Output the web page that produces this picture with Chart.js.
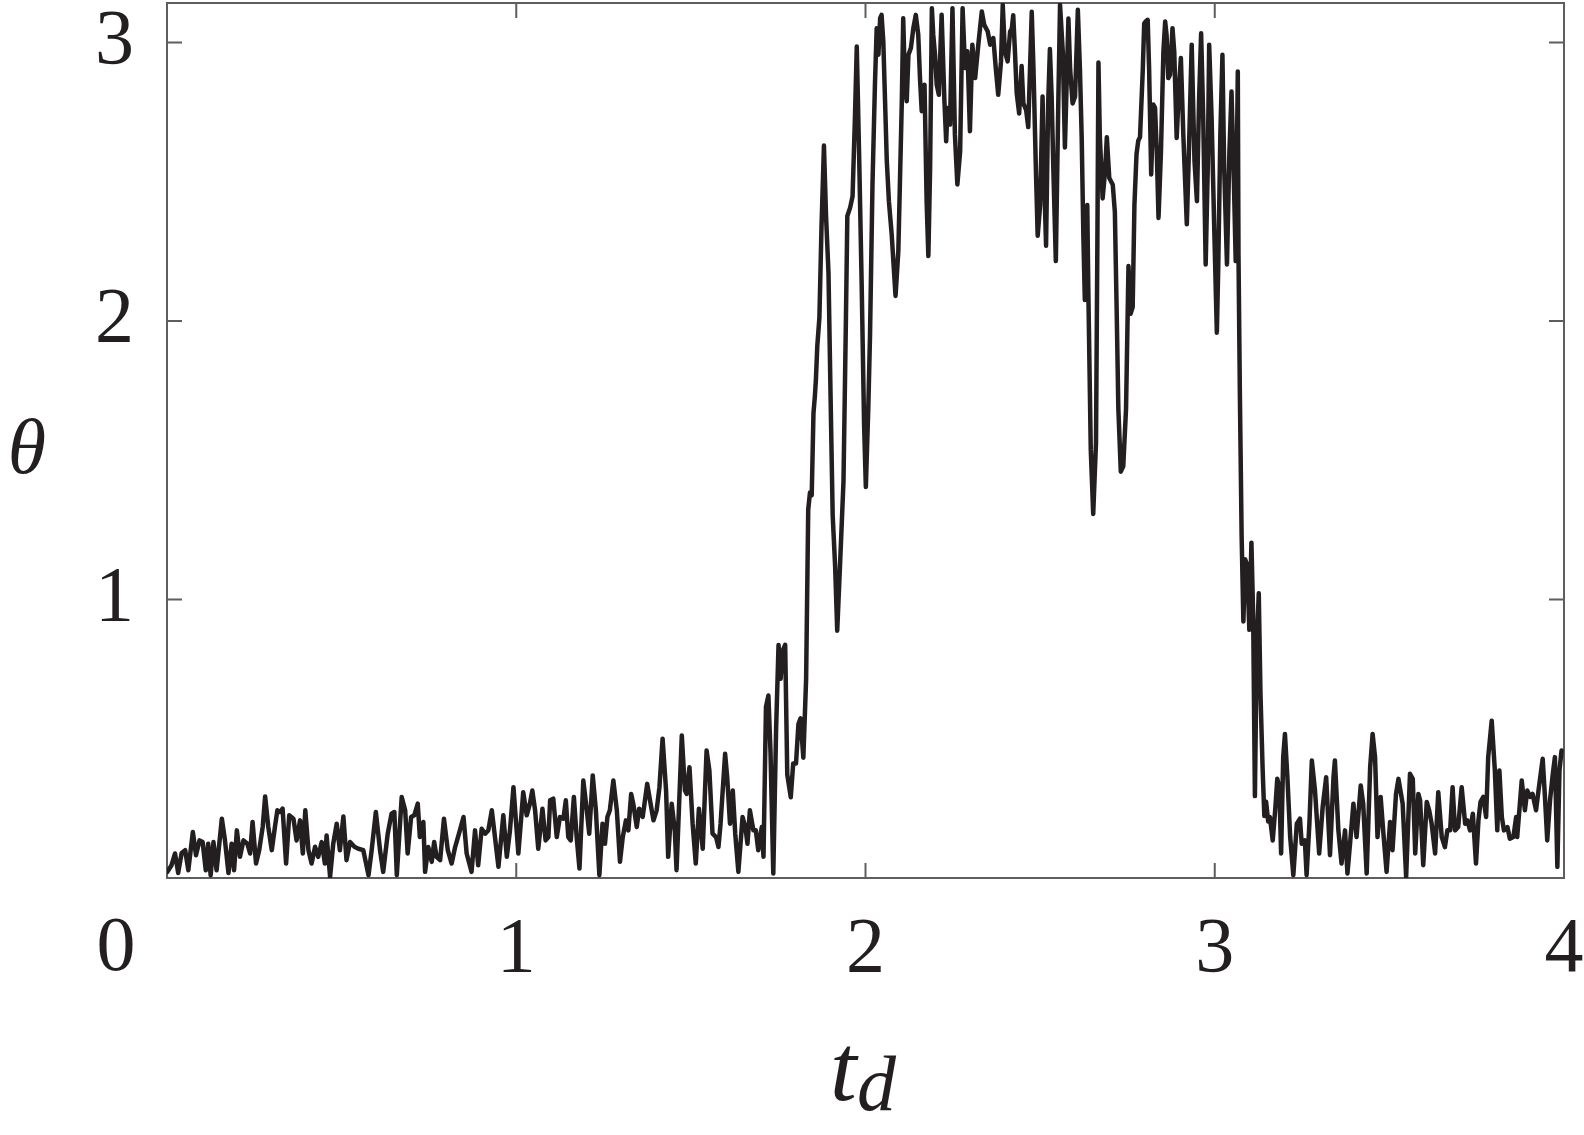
<!DOCTYPE html>
<html>
<head>
<meta charset="utf-8">
<script src="https://cdn.jsdelivr.net/npm/chart.js@4.4.1/dist/chart.umd.min.js"></script>
<style>
  html, body { margin: 0; padding: 0; background: #fff; }
  #wrap { width: 1584px; height: 1135px; position: relative; }
</style>
</head>
<body>
<div id="wrap"><canvas id="thetaChart"></canvas></div>
<script>
// values (t_d, theta)
const tValues = [
  0.001,0.013,0.023,0.032,0.042,0.052,0.061,0.074,0.083,0.093,0.102,0.111,0.118,0.125,0.133,0.142,0.157,0.166,0.176,0.185,0.192,0.200,0.209,0.219,0.230,0.238,0.245,0.255,0.264,0.274,0.281,0.290,0.300,0.309,0.316,0.324,0.331,0.341,0.350,0.362,0.371,0.381,0.389,0.396,0.405,0.414,0.424,0.433,0.443,0.452,0.457,0.467,0.476,0.486,0.495,0.505,0.514,0.524,0.533,
  0.538,0.548,0.562,0.577,0.586,0.598,0.610,0.619,0.632,0.643,0.651,0.658,0.672,0.682,0.689,0.699,0.708,0.718,0.724,0.734,0.739,0.748,0.758,0.765,0.772,0.782,0.793,0.804,0.815,0.825,0.836,0.849,0.858,0.872,0.882,0.891,0.901,0.911,0.920,0.930,0.939,0.949,0.963,0.973,0.982,0.992,1.006,1.020,1.030,1.039,1.046,1.054,1.063,1.075,1.084,1.092,
  1.097,1.106,1.116,1.125,1.135,1.142,1.149,1.156,1.165,1.173,1.181,1.192,1.202,1.209,1.219,1.228,1.238,1.247,1.254,1.261,1.268,1.278,1.288,1.297,1.305,1.314,1.321,1.329,1.335,1.345,1.352,1.362,1.375,1.383,1.393,1.402,1.410,1.419,1.429,1.435,1.445,1.454,1.459,1.474,1.483,1.488,1.496,1.505,1.514,1.523,1.534,1.545,1.553,1.562,1.572,1.579,1.585,1.598,1.604,1.612,1.620,1.627,1.636,1.648,1.656,1.662,1.669,1.679,1.686,1.693,1.703,1.708,
  1.715,1.722,1.728,1.736,1.744,1.751,1.757,1.763,1.770,1.776,1.786,1.793,1.801,1.808,1.814,1.822,1.830,1.836,1.841,1.846,1.851,1.855,1.858,1.862,1.868,1.874,1.881,1.887,1.894,1.900,1.906,1.913,1.919,1.927,1.937,1.944,1.948,1.956,1.963,1.970,1.975,1.982,1.989,1.996,2.001,2.008,
  2.013,2.020,2.027,2.032,2.037,2.042,2.046,2.051,2.056,2.061,2.067,2.075,2.086,2.094,2.104,2.108,2.113,2.118,2.123,2.130,2.137,2.144,2.151,2.156,2.161,2.169,2.175,2.180,2.185,2.190,2.194,2.199,2.204,2.210,2.218,2.226,2.231,2.235,2.242,2.249,2.256,2.263,2.271,2.278,2.285,2.292,2.299,2.306,2.314,2.323,2.333,2.340,2.350,2.357,2.366,2.373,2.380,2.388,2.393,2.399,2.407,2.414,
  2.419,2.423,2.428,2.433,2.440,2.447,2.452,2.460,2.466,2.476,2.481,2.488,2.493,2.500,2.507,2.511,2.517,2.523,2.528,2.533,2.538,2.545,2.552,2.557,2.565,2.571,2.581,2.586,2.593,2.600,2.608,2.614,2.619,2.624,2.628,2.635,2.638,2.645,2.652,2.660,2.664,2.667,2.671,2.679,2.686,2.691,2.698,2.708,2.714,2.719,2.724,2.731,2.738,2.746,2.753,2.759,2.765,2.770,2.776,2.781,2.786,2.794,2.798,
  2.802,2.808,2.812,2.818,2.824,2.829,2.834,2.839,2.846,2.853,2.858,2.862,2.867,2.872,2.879,2.884,2.891,2.898,2.903,2.910,2.920,2.926,2.934,2.942,2.949,2.955,2.961,2.967,2.974,2.980,2.984,2.991,2.999,3.006,3.010,3.016,3.022,3.027,3.035,3.042,3.048,3.055,3.060,3.066,
  3.068,3.072,3.077,3.082,3.087,3.093,3.099,3.105,3.110,3.115,3.120,3.126,3.131,3.137,3.142,3.147,3.153,
  3.158,3.166,3.173,3.179,3.185,3.190,3.196,3.201,3.208,3.216,3.225,3.235,3.244,3.249,3.258,3.263,3.271,3.278,3.287,3.299,3.309,3.319,3.330,3.340,3.344,3.354,3.363,3.373,3.380,3.389,3.397,3.406,3.418,3.425,3.435,3.445,3.452,3.459,3.466,3.475,3.483,3.492,3.502,3.509,3.519,3.526,3.538,3.548,3.559,3.567,3.574,3.583,3.588,
  3.597,3.607,3.614,3.621,3.631,3.640,3.650,3.659,3.666,3.674,3.681,3.688,3.697,3.707,3.717,3.723,3.731,3.739,3.748,3.755,3.761,3.769,3.777,3.783,3.793,3.802,3.809,3.815,3.822,3.828,3.838,3.845,3.855,3.863,3.866,3.879,3.888,3.895,3.903,3.910,3.920,3.927,3.939,3.946,3.952,3.960,3.968,3.974,3.981,3.987,3.993
];
const thetaValues = [
  0.022,0.046,0.088,0.018,0.090,0.100,0.028,0.165,0.082,0.135,0.129,0.028,0.123,0.010,0.129,0.028,0.213,0.135,0.018,0.123,0.028,0.171,0.076,0.135,0.123,0.088,0.201,0.052,0.100,0.183,0.293,0.183,0.100,0.183,0.243,0.237,0.249,0.052,0.225,0.213,0.135,0.207,0.088,0.243,0.100,0.052,0.112,0.076,0.129,0.052,0.153,0.004,0.123,0.195,0.100,0.221,0.064,0.129,0.117,
  0.111,0.105,0.100,0.010,0.100,0.237,0.100,0.022,0.159,0.231,0.237,0.010,0.291,0.243,0.088,0.219,0.225,0.267,0.147,0.201,0.022,0.111,0.058,0.129,0.076,0.064,0.213,0.100,0.052,0.111,0.159,0.219,0.088,0.022,0.171,0.046,0.177,0.159,0.171,0.243,0.147,0.040,0.225,0.076,0.171,0.326,0.088,0.308,0.225,0.267,0.314,0.243,0.105,0.249,0.135,0.147,
  0.279,0.285,0.147,0.219,0.213,0.279,0.147,0.135,0.291,0.147,0.034,0.350,0.243,0.159,0.368,0.243,0.010,0.195,0.123,0.219,0.243,0.350,0.243,0.058,0.147,0.207,0.171,0.302,0.267,0.183,0.249,0.219,0.338,0.279,0.207,0.243,0.326,0.500,0.314,0.076,0.267,0.171,0.028,0.512,0.314,0.302,0.398,0.195,0.052,0.249,0.105,0.458,0.386,0.159,0.147,0.111,0.195,0.446,0.362,0.195,0.314,0.159,0.022,0.219,0.183,0.123,0.243,0.171,0.171,0.100,0.183,0.076,
  0.614,0.655,0.452,0.016,0.533,0.837,0.715,0.817,0.837,0.371,0.290,0.411,0.411,0.553,0.573,0.432,0.715,1.323,1.384,1.374,1.668,1.729,1.789,1.911,2.012,2.336,2.630,2.377,2.174,1.729,1.303,1.121,0.888,1.121,1.425,2.012,2.377,2.407,2.448,2.742,2.985,2.580,2.134,1.627,1.404,1.688,
  1.952,2.490,2.848,3.051,2.956,3.087,3.099,3.004,2.789,2.574,2.430,2.311,2.090,2.251,2.789,3.087,2.848,2.789,2.956,2.980,3.051,3.099,3.028,2.872,2.753,2.848,2.430,2.233,2.550,3.123,3.028,2.956,2.848,2.812,3.099,2.789,2.645,2.765,2.705,3.123,2.669,2.490,2.609,3.123,2.908,2.968,2.681,2.992,2.872,2.992,3.111,3.063,3.039,2.992,3.016,2.908,2.812,2.932,3.135,2.968,2.932,3.039,
  3.050,3.098,2.964,2.818,2.745,2.915,2.781,2.757,2.696,3.110,2.903,2.538,2.306,2.416,2.806,2.538,2.270,2.781,2.976,2.806,2.538,2.215,2.781,3.135,2.964,2.623,3.086,2.903,2.781,2.806,3.117,2.903,2.660,2.294,2.075,2.416,2.111,1.538,1.307,1.563,2.294,2.928,2.660,2.440,2.538,2.660,2.513,2.489,2.391,2.050,1.685,1.459,1.478,1.685,2.197,2.026,2.050,2.416,2.599,2.647,2.660,2.903,3.068,
  3.075,3.081,2.908,2.526,2.777,2.765,2.609,2.370,2.609,2.968,3.075,3.028,2.872,2.884,3.051,2.968,2.657,2.848,2.944,2.669,2.347,2.609,2.992,2.574,2.430,2.789,3.033,2.729,2.203,2.550,2.992,2.729,2.311,1.958,2.191,2.669,2.956,2.550,2.203,2.609,2.824,2.490,2.215,2.896,
  2.236,1.731,1.225,0.921,1.144,1.124,0.891,1.204,0.941,0.294,0.820,1.022,0.658,0.395,0.223,0.274,0.203,
  0.219,0.135,0.243,0.356,0.326,0.088,0.434,0.517,0.362,0.147,0.010,0.195,0.213,0.123,0.135,0.010,0.195,0.422,0.314,0.088,0.255,0.362,0.082,0.362,0.422,0.171,0.052,0.171,0.016,0.147,0.267,0.147,0.332,0.267,0.016,0.398,0.517,0.434,0.147,0.291,0.159,0.022,0.201,0.100,0.302,0.356,0.267,0.004,0.374,0.356,0.088,0.302,0.279,
  0.046,0.273,0.243,0.195,0.088,0.308,0.147,0.111,0.171,0.171,0.326,0.171,0.183,0.326,0.195,0.207,0.171,0.231,0.052,0.207,0.273,0.291,0.219,0.434,0.565,0.386,0.171,0.386,0.219,0.171,0.183,0.141,0.147,0.219,0.147,0.350,0.243,0.314,0.291,0.302,0.243,0.314,0.428,0.279,0.135,0.279,0.374,0.434,0.040,0.386,0.458
];
const xTicks = [0, 1, 2, 3, 4];
const yTicks = [0, 1, 2, 3];

const serif = "'Liberation Serif', 'DejaVu Serif'";
const ink = "#231f20";
const frameColor = "#5e5e5e";

// fixed axis sizes, and no extra label overhang padding, so the plot box lands where the original's is
function pinScale(size) {
  return (s) => {
    if (s.isHorizontal()) s.height = size; else s.width = size;
    s.paddingTop = 0; s.paddingBottom = 0; s.paddingLeft = 0; s.paddingRight = 0;
  };
}

// box around the axes with inward ticks, MATLAB style
const framePlugin = {
  id: "frame",
  beforeDatasetsDraw(chart) {
    const { ctx, chartArea: a, scales } = chart;
    const tick = 15;
    ctx.save();
    ctx.strokeStyle = frameColor;
    ctx.lineWidth = 2;
    ctx.strokeRect(a.left, a.top, a.right - a.left, a.bottom - a.top);
    ctx.beginPath();
    xTicks.forEach((v) => {
      const px = scales.x.getPixelForValue(v);
      ctx.moveTo(px, a.bottom); ctx.lineTo(px, a.bottom - tick);
      ctx.moveTo(px, a.top); ctx.lineTo(px, a.top + tick);
    });
    yTicks.forEach((v) => {
      const py = scales.y.getPixelForValue(v);
      ctx.moveTo(a.left, py); ctx.lineTo(a.left + tick, py);
      ctx.moveTo(a.right, py); ctx.lineTo(a.right - tick, py);
    });
    ctx.stroke();
    ctx.restore();
  },
  afterDraw(chart) {
    const { ctx, chartArea: a, scales } = chart;
    ctx.save();
    ctx.fillStyle = ink;
    // the "0" of the x axis sits off to the left in the original
    ctx.font = "78px " + serif;
    ctx.textAlign = "center";
    ctx.textBaseline = "alphabetic";
    ctx.fillText("0", scales.x.getPixelForValue(0) - 51, a.bottom + 92);
    // y axis label
    ctx.font = "italic 78px " + serif;
    ctx.textBaseline = "middle";
    ctx.fillText("θ", 27, 452);
    // x axis label t_d
    ctx.textAlign = "left";
    ctx.textBaseline = "alphabetic";
    ctx.font = "italic 96px " + serif;
    ctx.fillText("t", 830, 1100);
    ctx.font = "italic 78px " + serif;
    ctx.fillText("d", 857, 1110);
    ctx.restore();
  },
};

const ctx = document.getElementById("thetaChart").getContext("2d");
const thetaChart = new Chart(ctx, {
  type: "line",
  data: {
    datasets: [
      {
        label: "theta",
        data: tValues.map((t, i) => ({ x: t, y: thetaValues[i] })),
        borderColor: ink,
        borderWidth: 4.5,
        borderJoinStyle: "round",
        borderCapStyle: "round",
        pointRadius: 0,
        fill: false,
        tension: 0,
      },
    ],
  },
  options: {
    responsive: true,
    maintainAspectRatio: false,
    animation: false,
    events: [],
    layout: { padding: { left: 0, top: 3, right: 20, bottom: 0 } },
    scales: {
      x: {
        type: "linear",
        min: 0,
        max: 4,
        afterBuildTicks: (s) => { s.ticks = xTicks.map((v) => ({ value: v })); },
        afterFit: pinScale(257),
        grid: { display: false, drawTicks: false },
        border: { display: false },
        ticks: {
          color: ink,
          font: { family: serif, size: 78 },
          padding: 26,
          maxRotation: 0,
          callback: (v) => (v === 0 ? "" : String(v)),
        },
      },
      y: {
        type: "linear",
        min: 0,
        max: Math.PI,
        afterBuildTicks: (s) => { s.ticks = yTicks.map((v) => ({ value: v })); },
        afterFit: pinScale(167),
        grid: { display: false, drawTicks: false },
        border: { display: false },
        ticks: {
          color: ink,
          font: { family: serif, size: 78 },
          padding: 33,
          callback: (v) => (v === 0 ? "" : String(v)),
        },
      },
    },
    plugins: {
      legend: { display: false },
      tooltip: { enabled: false },
    },
  },
  plugins: [framePlugin],
});
</script>
</body>
</html>
